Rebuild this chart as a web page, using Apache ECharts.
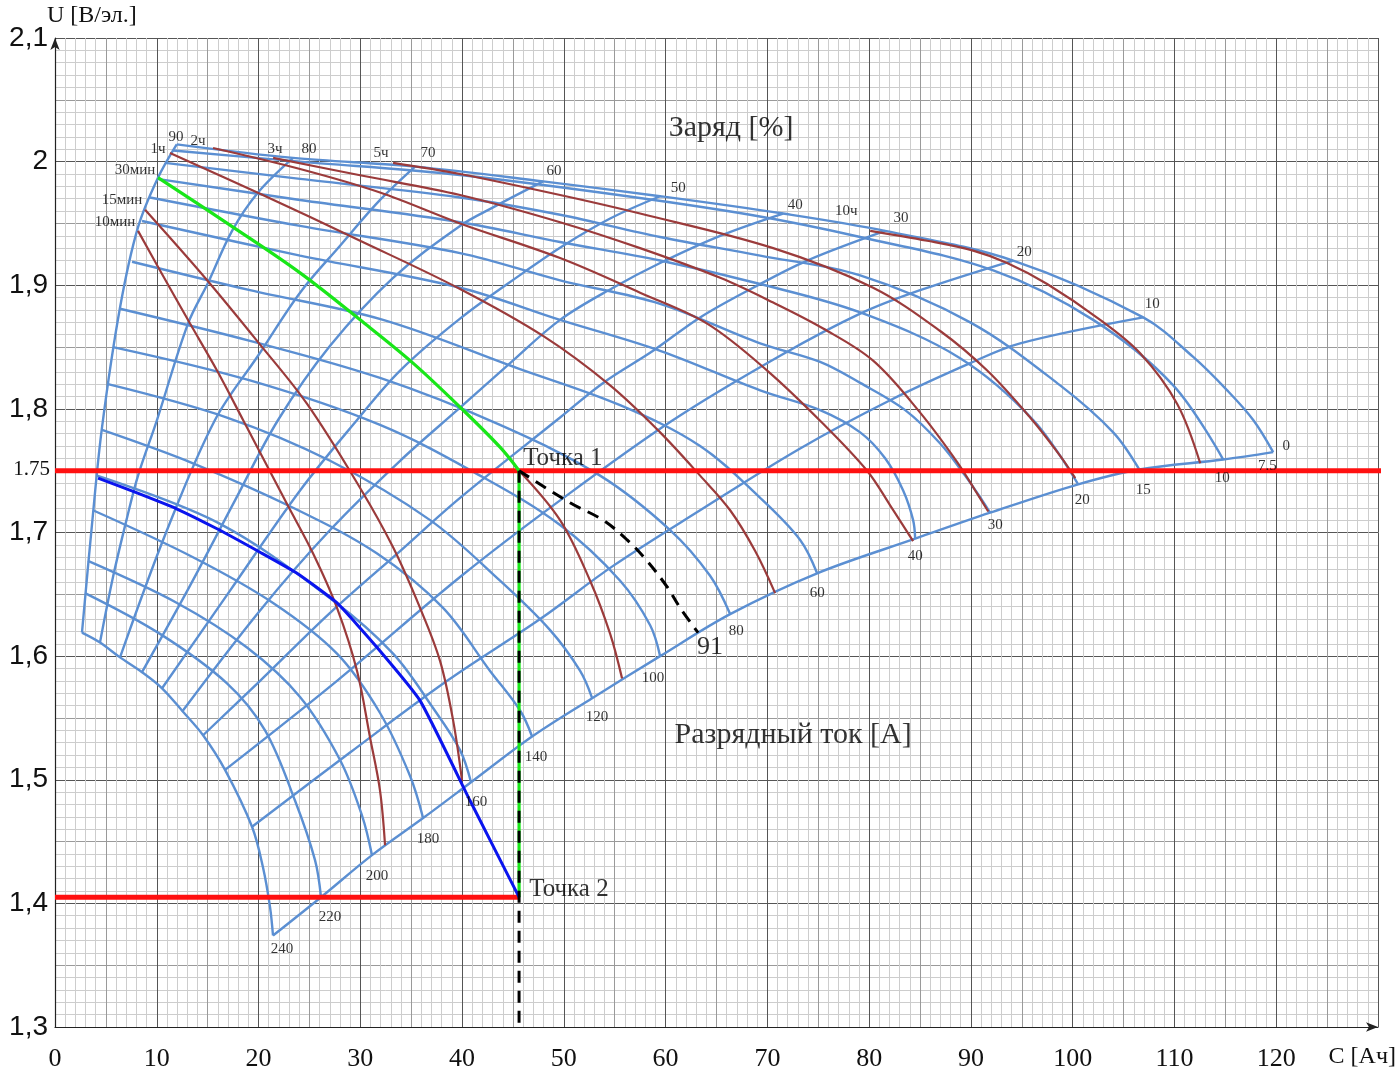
<!DOCTYPE html>
<html><head><meta charset="utf-8">
<script src="https://cdn.jsdelivr.net/npm/echarts@6/dist/echarts.min.js"></script>
<style>html,body{margin:0;padding:0;background:#fff}#c{width:1399px;height:1076px}</style>
</head><body><div id="c"></div>
<script>
// ---------- Charge lines (Заряд, %) : [C Ач, U В/эл] ----------
const charge90 = [[11.96,2.014],[10.12,1.987],[8.16,1.947],[6.39,1.882],[4.62,1.785],[3.64,1.707],[2.65,1.619]];
const charge80 = [[23.39,2.003],[19.95,1.975],[17.40,1.944],[15.04,1.902],[13.07,1.869],[10.02,1.791],[8.16,1.746],[7.08,1.712],[5.70,1.664],[4.42,1.611]];
const charge70 = [[35.38,1.996],[31.94,1.969],[28.01,1.932],[24.08,1.894],[19.95,1.843],[15.72,1.791],[11.01,1.702],[6.39,1.599]];
const charge60 = [[47.96,1.984],[43.05,1.963],[39.80,1.948],[33.22,1.906],[27.03,1.851],[21.92,1.791],[17.69,1.726],[13.27,1.657],[8.55,1.587]];
const charge50 = [[59.46,1.972],[54.55,1.954],[49.93,1.932],[46.00,1.910],[39.80,1.873],[33.91,1.831],[29.68,1.791],[24.08,1.734],[17.20,1.653],[10.52,1.574]];
const charge40 = [[71.55,1.958],[65.36,1.940],[59.46,1.918],[54.84,1.898],[49.63,1.872],[44.72,1.837],[39.80,1.801],[33.91,1.758],[27.03,1.702],[20.15,1.637],[12.48,1.555]];
const charge30 = [[81.57,1.944],[73.91,1.920],[68.60,1.898],[63.39,1.874],[58.77,1.847],[53.86,1.821],[49.63,1.793],[39.80,1.728],[33.91,1.685],[27.03,1.635],[20.15,1.580],[14.55,1.536]];
const charge20 = [[94.15,1.920],[85.01,1.896],[79.12,1.877],[71.25,1.843],[60.74,1.791],[49.63,1.726],[39.80,1.664],[27.71,1.580],[16.71,1.508]];
const charge10 = [[106.93,1.874],[94.84,1.853],[89.93,1.837],[82.06,1.807],[73.22,1.768],[63.39,1.718],[54.84,1.673],[47.67,1.630],[38.53,1.580],[28.99,1.522],[19.36,1.462]];
const charge0  = [[119.70,1.765],[114.79,1.759],[106.54,1.751],[100.54,1.739],[91.89,1.716],[84.52,1.695],[74.89,1.667],[66.34,1.634],[59.46,1.600],[52.78,1.566],[46.88,1.535],[40.88,1.498],[36.17,1.469],[31.15,1.439],[26.14,1.405],[21.42,1.374]];

// ---------- Discharge current curves (Разрядный ток, А) ----------
const current7_5 = [[11.96,2.014],[23.39,2.003],[35.38,1.996],[47.96,1.984],[59.46,1.972],[71.55,1.958],[81.57,1.944],[94.15,1.920],[106.93,1.874],[111.84,1.842],[115.18,1.815],[117.74,1.791],[119.70,1.765]];
const current10  = [[11.60,2.009],[24.08,2.000],[38.82,1.990],[53.56,1.975],[68.30,1.957],[79.12,1.939],[92.19,1.912],[102.01,1.872],[109.88,1.819],[114.79,1.759]];
const current15  = [[10.81,1.999],[24.08,1.986],[39.80,1.971],[49.63,1.957],[59.46,1.939],[69.29,1.924],[79.12,1.908],[89.93,1.870],[98.77,1.819],[103.98,1.781],[106.54,1.751]];
const current20  = [[10.02,1.986],[24.08,1.969],[39.80,1.951],[49.63,1.935],[59.46,1.920],[69.29,1.901],[79.12,1.878],[88.94,1.841],[96.12,1.791],[100.54,1.739]];
const current30  = [[9.34,1.971],[24.08,1.948],[39.80,1.926],[49.63,1.904],[59.46,1.885],[69.29,1.853],[75.18,1.838],[79.12,1.821],[83.54,1.799],[86.98,1.772],[89.43,1.746],[91.11,1.726],[91.89,1.716]];
const current40  = [[8.55,1.952],[24.08,1.924],[39.80,1.898],[49.63,1.872],[59.46,1.847],[69.29,1.815],[75.18,1.799],[79.12,1.781],[81.57,1.760],[83.34,1.734],[84.32,1.710],[84.52,1.695]];
const current60  = [[7.57,1.919],[19.16,1.896],[32.24,1.872],[45.41,1.833],[55.53,1.803],[63.39,1.770],[69.29,1.728],[73.22,1.694],[74.89,1.667]];
const current80  = [[6.39,1.881],[19.16,1.855],[31.94,1.825],[43.73,1.787],[53.56,1.746],[60.44,1.702],[64.37,1.665],[66.34,1.634]];
const current100 = [[5.70,1.850],[19.16,1.823],[31.94,1.787],[41.77,1.746],[49.63,1.706],[55.53,1.661],[58.48,1.625],[59.46,1.600]];
const current120 = [[5.21,1.820],[16.90,1.793],[27.03,1.758],[36.86,1.710],[43.73,1.661],[48.65,1.621],[51.60,1.588],[52.78,1.566]];
const current140 = [[4.62,1.783],[13.56,1.756],[23.39,1.720],[31.65,1.683],[38.13,1.639],[42.75,1.588],[45.70,1.556],[46.88,1.535]];
const current160 = [[4.13,1.746],[16.22,1.707],[27.32,1.645],[33.22,1.602],[37.15,1.558],[39.80,1.524],[40.88,1.498]];
const current180 = [[3.73,1.718],[13.56,1.680],[21.43,1.643],[27.71,1.602],[31.94,1.554],[34.89,1.503],[36.17,1.469]];
const current200 = [[3.24,1.677],[11.99,1.643],[18.87,1.607],[24.08,1.567],[28.01,1.516],[30.17,1.471],[31.15,1.439]];
const current220 = [[2.95,1.651],[10.32,1.618],[16.90,1.578],[20.64,1.540],[23.59,1.483],[25.55,1.435],[26.14,1.405]];
const current240 = [[2.65,1.619],[4.42,1.611],[6.39,1.599],[8.55,1.587],[10.52,1.574],[12.58,1.555],[14.55,1.536],[16.71,1.508],[19.36,1.462],[20.44,1.429],[21.13,1.397],[21.42,1.374]];

// ---------- Discharge time curves ----------
const time10min = [[8.16,1.944],[10.32,1.912],[13.27,1.869],[15.92,1.831],[18.48,1.791],[22.80,1.723],[25.36,1.683],[27.71,1.639],[29.68,1.588],[30.96,1.534],[31.94,1.491],[32.43,1.447]];
const time15min = [[8.85,1.961],[14.74,1.906],[19.85,1.855],[24.77,1.804],[29.98,1.736],[33.22,1.688],[35.87,1.639],[37.84,1.596],[39.12,1.548],[40.00,1.499]];
const time30minGreen = [[10.12,1.987],[17.49,1.947],[24.08,1.910],[29.98,1.872],[35.18,1.837],[40.10,1.799],[43.73,1.769],[45.60,1.750]];
const time30minRest  = [[45.60,1.750],[49.63,1.710],[52.58,1.661],[54.55,1.618],[55.72,1.582]];
const time1h  = [[11.30,2.007],[20.15,1.974],[29.98,1.936],[39.80,1.897],[47.96,1.859],[54.55,1.819],[59.46,1.781],[63.39,1.746],[66.34,1.718],[68.80,1.685],[70.76,1.651]];
const time2h  = [[15.53,2.011],[24.08,1.994],[31.94,1.975],[39.80,1.950],[49.63,1.922],[57.49,1.894],[64.08,1.869],[69.98,1.831],[75.48,1.788],[79.80,1.750],[82.06,1.722],[84.32,1.693]];
const time3h  = [[21.43,2.003],[29.98,1.989],[39.80,1.973],[49.63,1.951],[57.49,1.930],[65.36,1.906],[70.57,1.886],[75.48,1.865],[80.39,1.839],[85.01,1.797],[88.65,1.757],[90.42,1.734],[91.70,1.717]];
const time5h  = [[33.22,1.999],[39.80,1.990],[49.63,1.973],[57.49,1.958],[70.57,1.930],[80.39,1.898],[86.98,1.863],[91.60,1.831],[95.82,1.793],[98.77,1.762],[100.25,1.744]];
const time10h = [[80.10,1.944],[85.70,1.936],[90.22,1.928],[93.56,1.918],[97.49,1.901],[102.70,1.872],[106.63,1.845],[110.27,1.804],[112.53,1.756]];

// ---------- Worked example ----------
const current91 = [[4.23,1.744],[8.06,1.732],[11.99,1.719],[15.92,1.703],[20.15,1.684],[23.78,1.667],[27.71,1.643],[31.65,1.607],[35.87,1.564],[40.79,1.483],[45.60,1.405]];
const dashed91  = [[45.60,1.750],[50.61,1.724],[53.86,1.710],[56.22,1.694],[58.18,1.677],[60.15,1.656],[61.43,1.639],[63.19,1.619]];
const point1 = [45.6, 1.75];
const point2 = [45.6, 1.405];
const redLevelHigh = 1.75;
const redLevelLow = 1.405;
const redHighEnd = 131.6;

// ---------- Labels ----------
const currentLabels = [['7.5',119.12,1.754],['10',114.69,1.744],['15',106.93,1.734],['20',100.93,1.726],['30',92.38,1.706],['40',84.52,1.681],['60',74.89,1.651],['80',66.93,1.620],['100',58.77,1.582],['120',53.27,1.551],['140',47.27,1.518],['160',41.38,1.482],['180',36.66,1.452],['200',31.65,1.422],['220',27.03,1.389],['240',22.31,1.363]];
const chargeLabels = [['90',11.89,2.020],['80',24.96,2.010],['70',36.66,2.007],['60',49.04,1.992],['50',61.23,1.979],['40',72.73,1.965],['30',83.14,1.954],['20',95.23,1.927],['10',107.81,1.885],['0',120.98,1.770]];
const timeLabels = [['10мин',5.90,1.951],['15мин',6.58,1.969],['30мин',7.86,1.993],['1ч',10.12,2.010],['2ч',14.05,2.017],['3ч',21.62,2.010],['5ч',32.04,2.007],['10ч',77.74,1.960]];
const bigLabels = [['Заряд [%]',66.44,2.027],['Разрядный ток [А]',72.53,1.536]];
const numberLabels = [['91',64.37,1.607]];
const pointLabels = [['Точка 1',46.0,1.760],['Точка 2',46.6,1.411]];

const xTicks = [0,10,20,30,40,50,60,70,80,90,100,110,120];
const yTicks = [1.3,1.4,1.5,1.6,1.7,1.8,1.9,2.0,2.1];

// ---------- Build ----------
const BLUE = '#5b8fd2', BROWN = '#9b3b3b', GREEN = '#19e619', DARKBLUE = '#0a14ee', RED = '#ff1010';
const SERIF = '"Liberation Serif","Times New Roman",serif';
const SANS = '"Liberation Sans",Arial,sans-serif';

function curve(data, color, width, extra) {
  return Object.assign({
    type: 'line', data: data, symbol: 'none', showSymbol: false, smooth: 0.35,
    lineStyle: { color: color, width: width }, silent: true, animation: false, z: 2
  }, extra || {});
}
function textSeries(list, size, extra) {
  return {
    type: 'scatter', symbolSize: 1, itemStyle: { color: 'rgba(0,0,0,0)' }, silent: true, animation: false, z: 10,
    data: list.map(function (t) { return { name: t[0], value: [t[1], t[2]] }; }),
    label: Object.assign({ show: true, position: 'inside', formatter: '{b}', color: '#000', fontFamily: SERIF, fontSize: size }, extra || {})
  };
}

const series = [];
[charge90, charge80, charge70, charge60, charge50, charge40, charge30, charge20, charge10, charge0].forEach(function (d) {
  series.push(curve(d, BLUE, 2.4));
});
[current7_5, current10, current15, current20, current30, current40, current60, current80, current100, current120, current140, current160, current180, current200, current220, current240].forEach(function (d) {
  series.push(curve(d, BLUE, 2.4));
});
[time10min, time15min, time30minRest, time1h, time2h, time3h, time5h, time10h].forEach(function (d) {
  series.push(curve(d, BROWN, 2.2, { z: 3 }));
});
series.push(curve([[0, redLevelHigh], [redHighEnd, redLevelHigh]], RED, 5, { smooth: false, clip: false, z: 4 }));
series.push(curve([[0, redLevelLow], point2], RED, 5, { smooth: false, z: 4 }));
series.push(curve(time30minGreen, GREEN, 3.2, { z: 5 }));
series.push(curve([point1, point2], GREEN, 3.2, { smooth: false, z: 5 }));
series.push(curve(current91, DARKBLUE, 3, { smooth: 0.15, z: 5 }));
series.push(curve(dashed91, '#000', 3, { z: 6, lineStyle: { color: '#000', width: 3, type: [12, 8] } }));
series.push(curve([point1, [point1[0], 1.3]], '#000', 3, { smooth: false, z: 6, lineStyle: { color: '#000', width: 3, type: [12, 8] } }));
series.push(textSeries(currentLabels, 15));
series.push(textSeries(chargeLabels, 15));
series.push(textSeries(timeLabels, 15));
series.push(textSeries(bigLabels, 30));
series.push(textSeries(numberLabels, 26));
series.push(textSeries(pointLabels, 25, { align: 'left' }));

const chart = echarts.init(document.getElementById('c'), null, { renderer: 'canvas' });
chart.setOption({
  animation: false,
  backgroundColor: '#fff',
  grid: { left: 55, right: 21, top: 38, bottom: 49, containLabel: false, outerBoundsMode: 'none' },
  xAxis: {
    type: 'value', min: 0, max: 130, interval: 5,
    axisLine: { show: true, onZero: false, symbol: ['none', 'arrow'], symbolSize: [7, 12], lineStyle: { color: '#222', width: 1.2 } },
    axisTick: { show: false },
    axisLabel: { margin: 19, fontFamily: SERIF, fontSize: 26, color: '#111',
      formatter: function (v) { return xTicks.indexOf(Math.round(v * 1000) / 1000) >= 0 ? String(Math.round(v)) : ''; } },
    splitLine: { show: true, lineStyle: { color: ['#555', '#9a9a9a'], width: 1 } },
    minorTick: { show: false, splitNumber: 5 },
    minorSplitLine: { show: true, lineStyle: { color: '#cdcdcd', width: 1 } }
  },
  yAxis: {
    type: 'value', min: 1.3, max: 2.1, interval: 0.05,
    axisLine: { show: true, onZero: false, symbol: ['none', 'arrow'], symbolSize: [7, 12], lineStyle: { color: '#222', width: 1.2 } },
    axisTick: { show: false },
    axisLabel: { margin: 7, fontFamily: SANS, fontSize: 28, color: '#111',
      formatter: function (v) {
        const r = Math.round(v * 100) / 100;
        for (let i = 0; i < yTicks.length; i++) {
          if (Math.abs(yTicks[i] - r) < 1e-6) return String(Math.round(r * 10) / 10).replace('.', ',');
        }
        return '';
      } },
    splitLine: { show: true, lineStyle: { color: ['#555', '#9a9a9a'], width: 1 } },
    minorTick: { show: false, splitNumber: 5 },
    minorSplitLine: { show: true, lineStyle: { color: '#cdcdcd', width: 1 } }
  },
  series: series
});

// axis names and the 1.75 marker label placed via the chart's own scales
const pLevel = chart.convertToPixel({ gridIndex: 0 }, [0, redLevelHigh]);
const pTop = chart.convertToPixel({ gridIndex: 0 }, [0, 2.1]);
const pXEnd = chart.convertToPixel({ gridIndex: 0 }, [130, 1.3]);
chart.setOption({
  graphic: [
    { type: 'text', left: pTop[0] - 8, top: pTop[1] - 34, style: { text: 'U [В/эл.]', font: '24px ' + SERIF, fill: '#111' } },
    { type: 'text', right: 1399 - pXEnd[0] - 18, top: pXEnd[1] + 18, style: { text: 'C [Ач]', font: '24px ' + SERIF, fill: '#111' } },
    { type: 'text', right: 1399 - pLevel[0] + 5, top: pLevel[1] - 12, style: { text: '1.75', font: '21px ' + SERIF, fill: '#111' } }
  ]
});
</script>
</body></html>
